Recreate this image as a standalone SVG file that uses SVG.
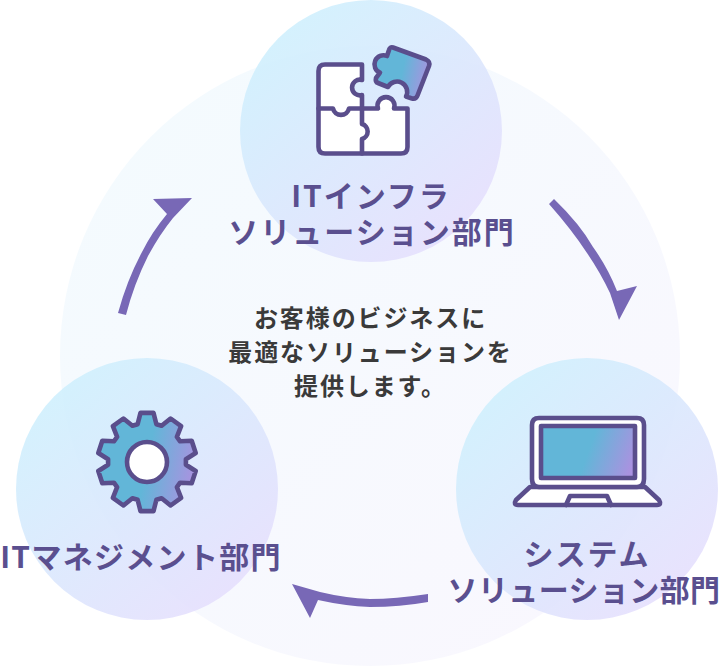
<svg xmlns="http://www.w3.org/2000/svg" width="728" height="666" viewBox="0 0 728 666">
<style>
.lbl{font-family:"Noto Sans CJK JP","Noto Sans",sans-serif;font-weight:700;font-size:30px;letter-spacing:2px;fill:#5a4f8f;text-anchor:middle}
.ctr{font-family:"Noto Sans CJK JP","Noto Sans",sans-serif;font-weight:700;font-size:24px;letter-spacing:1.9px;fill:#3a3a3a;text-anchor:middle}
.ic{stroke:#5a4e8c;stroke-width:4.6;stroke-linejoin:round;stroke-linecap:round}
.arrow{fill:#7868b6}
.disc{fill:url(#disc);opacity:.9}
</style>
<defs>
<linearGradient id="big" x1="0" y1="0" x2="1" y2="1"><stop offset="0" stop-color="#f3fbfe"/><stop offset="1" stop-color="#faf7fe"/></linearGradient>
<linearGradient id="disc" x1=".15" y1=".1" x2=".85" y2=".9"><stop offset="0" stop-color="#cff0fd"/><stop offset="1" stop-color="#e6dffd"/></linearGradient>
<linearGradient id="ico" x1="0" y1=".4" x2="1" y2=".6"><stop offset=".5" stop-color="#62b6d8"/><stop offset="1" stop-color="#aa92e0"/></linearGradient>
</defs>
<circle cx="370" cy="356" r="310" fill="url(#big)"/>
<g id="connectors">
<path class="arrow" d="M554,199 Q580,224 593,247 Q608,268 617,291 L637,286 L619,320 L610,293 Q600,272 587,253 Q572,230 549,204Z"/>
<path class="arrow" d="M428,594 Q395,599 370,599 Q345,598 320,592 L292,584 L310,618 L318,600 Q345,606 370,607 Q400,607 428,602Z"/>
<path class="arrow" d="M118,313 Q127,280 142,252 Q152,232 167,214 L153,199 L192,198 L173,218 Q160,234 148,256 Q134,284 126,315Z"/>
</g>
<g id="node-infra">
<circle class="disc" cx="371" cy="131" r="131"/>
<path class="ic" fill="#fff" d="M362,64.5H325Q318.5,64.5 318.5,71V147Q318.5,153.5 325,153.5H401Q407.5,153.5 407.5,147V108.5H394A8.5 8.5 0 1 0 378 108.5H362V95A7.8 7.8 0 1 1 362 80V64.5Z"/>
<path class="ic" fill="none" d="M318.5,108.5H333A8.2 8.2 0 0 0 349 108.5H362V124A7.8 7.8 0 0 1 362 139V153.5"/>
<path class="ic" fill="url(#ico)" d="M393,47.5L426,59.5Q430.5,61.5 429,66L417.5,95.5Q416,99.5 412,98.5L406,96.5A9 9 0 0 0 388,87L378,83Q375,82 376,78L380,72.7A8.8 8.8 0 0 1 387,56L389,50Q390,46.5 393,47.5Z"/>
<text class="lbl" x="371" y="207">ITインフラ</text>
<text class="lbl" x="372" y="243">ソリューション部門</text>
</g>
<g id="node-system">
<circle class="disc" cx="587" cy="489" r="131"/>
<path class="ic" fill="#fff" d="M530,487H645L659,500Q662,505 657,505H518Q513,505 516,500Z"/>
<path class="ic" fill="#fff" d="M532,425Q532,418 539,418H637Q644,418 644,425V479Q644,487 637,487H539Q532,487 532,479Z"/>
<rect class="ic" x="541" y="426" width="94" height="52" fill="url(#ico)" stroke-linejoin="miter"/>
<path class="ic" fill="none" d="M566,505L570,496H607L611,505"/>
<text class="lbl" x="587" y="565">システム</text>
<text class="lbl" x="584" y="601" style="letter-spacing:0.4px">ソリューション部門</text>
</g>
<g id="node-mgmt">
<circle class="disc" cx="147" cy="489" r="131"/>
<path class="ic" fill="url(#ico)" transform="translate(147,462)" d="M6.5,-49.1L9.4,-37.8L14.6,-36.2L23.6,-43.5L34.1,-35.9L29.9,-25.1L33.1,-20.7L44.7,-21.3L48.7,-9L38.9,-2.7L38.9,2.7L48.7,9L44.7,21.3L33.1,20.7L29.9,25.1L34.1,35.9L23.6,43.5L14.6,36.2L9.4,37.8L6.5,49.1L-6.5,49.1L-9.4,37.8L-14.6,36.2L-23.6,43.5L-34.1,35.9L-29.9,25.1L-33.1,20.7L-44.7,21.3L-48.7,9L-38.9,2.7L-38.9,-2.7L-48.7,-9L-44.7,-21.3L-33.1,-20.7L-29.9,-25.1L-34.1,-35.9L-23.6,-43.5L-14.6,-36.2L-9.4,-37.8L-6.5,-49.1Z"/>
<circle class="ic" cx="147" cy="462" r="20" fill="#fff"/>
<text class="lbl" x="141" y="568" style="letter-spacing:1.3px">ITマネジメント部門</text>
</g>
<g id="center-text">
<text class="ctr" x="370.5" y="327">お客様のビジネスに</text>
<text class="ctr" x="370.5" y="361">最適なソリューションを</text>
<text class="ctr" x="370.5" y="395">提供します。</text>
</g>
</svg>
